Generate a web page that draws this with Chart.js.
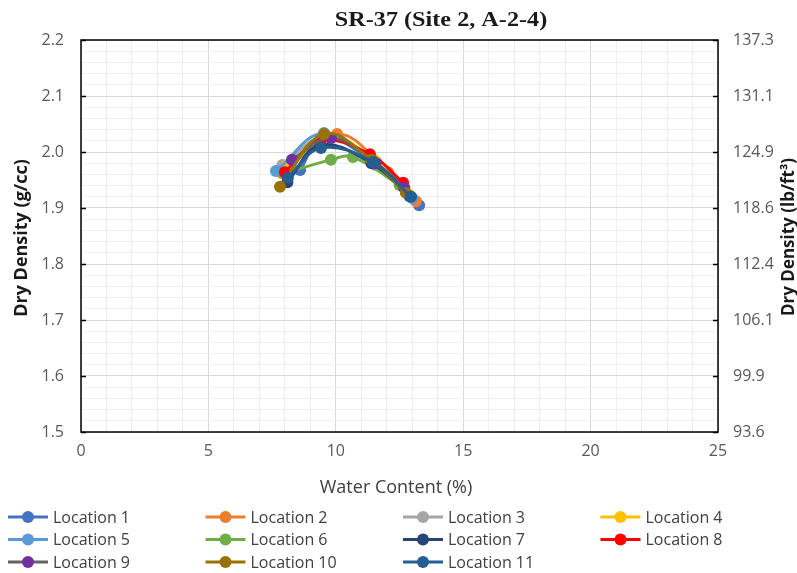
<!DOCTYPE html>
<html><head><meta charset="utf-8">
<script src="https://cdn.jsdelivr.net/npm/chart.js@4/dist/chart.umd.min.js"></script>
<style>html,body{margin:0;padding:0;background:#fff;}#wrap{width:797px;height:573px;position:relative;}</style>
</head><body><div id="wrap"><canvas id="c" width="797" height="573"></canvas></div>
<script>
const chartTitle = 'SR-37 (Site 2, A-2-4)';
const xTitle = 'Water Content (%)';
const yTitle = 'Dry Density (g/cc)';
const y2Title = 'Dry Density (lb/ft³)';
const seriesNames = ['Location 1','Location 2','Location 3','Location 4','Location 5','Location 6','Location 7','Location 8','Location 9','Location 10','Location 11'];
const lineColors   = ['#4472C4','#ED7D31','#A5A5A5','#FFC000','#5B9BD5','#70AD47','#264478','#FF0000','#636363','#997300','#255E91'];
const markerColors = ['#4472C4','#ED7D31','#A5A5A5','#FFC000','#5B9BD5','#70AD47','#264478','#FF0000','#7030A0','#997300','#255E91'];

const wc1 = [8.6, 9.5, 11.5, 13.27];   const dd1 = [1.968, 2.027, 1.980, 1.905];
const wc2 = [7.9, 10.05, 12.05, 13.15]; const dd2 = [1.962, 2.032, 1.964, 1.912];
const wc3 = [7.9, 9.6, 11.6, 12.7];    const dd3 = [1.977, 2.027, 1.982, 1.936];
const wc4 = [8.1, 9.8, 11.5, 12.9];    const dd4 = [1.977, 2.025, 1.986, 1.923];
const wc5 = [7.65, 9.54, 11.55, 13.0]; const dd5 = [1.966, 2.034, 1.977, 1.918];
const wc6 = [8.0, 9.81, 10.67, 12.5];  const dd6 = [1.962, 1.986, 1.991, 1.941];
const wc7 = [8.1, 9.38, 11.4, 12.9];   const dd7 = [1.946, 2.012, 1.980, 1.921];
const wc8 = [8.0, 9.38, 11.34, 12.64]; const dd8 = [1.964, 2.020, 1.996, 1.945];
const wc9 = [8.28, 9.81, 11.55, 12.68]; const dd9 = [1.986, 2.025, 1.980, 1.936];
const wc10 = [7.81, 9.54, 11.4, 12.75]; const dd10 = [1.938, 2.032, 1.986, 1.927];
const wc11 = [8.12, 9.42, 11.46, 12.95]; const dd11 = [1.954, 2.007, 1.982, 1.920];

const waterContents = [wc1,wc2,wc3,wc4,wc5,wc6,wc7,wc8,wc9,wc10,wc11];
const dryDensities = [dd1,dd2,dd3,dd4,dd5,dd6,dd7,dd8,dd9,dd10,dd11];

const xTicks = [0, 5, 10, 15, 20, 25];
const yTicks = [1.5, 1.6, 1.7, 1.8, 1.9, 2.0, 2.1, 2.2];
const rightTickLabels = ['93.6','99.9','106.1','112.4','118.6','124.9','131.1','137.3'];

const isMajorY = v => Math.abs(v*10 - Math.round(v*10)) < 1e-6;
const isMajorX = v => Math.abs(v/5 - Math.round(v/5)) < 1e-6;

const datasets = seriesNames.map((name, i) => ({
  label: name,
  data: waterContents[i].map((x, j) => ({x: x, y: dryDensities[i][j]})),
  borderColor: lineColors[i],
  backgroundColor: markerColors[i],
  pointBackgroundColor: markerColors[i],
  pointBorderColor: markerColors[i],
  pointRadius: 6,
  pointBorderWidth: 0,
  borderWidth: 3,
  tension: 0.4,
  fill: false,
  order: seriesNames.length - 1 - i
}));

const decor = {
  id: 'decor',
  afterDraw(chart) {
    const ctx = chart.ctx;
    const a = chart.chartArea;
    const ys = chart.scales.y;
    ctx.save();
    ctx.strokeStyle = '#000';
    ctx.lineWidth = 1.5;
    ctx.strokeRect(a.left, a.top, a.right - a.left, a.bottom - a.top);
    yTicks.forEach(v => {
      const py = Math.round(ys.getPixelForValue(v)) + 0.5;
      ctx.beginPath(); ctx.moveTo(a.left, py); ctx.lineTo(a.left + 5, py); ctx.stroke();
      ctx.beginPath(); ctx.moveTo(a.right - 5, py); ctx.lineTo(a.right, py); ctx.stroke();
    });
    // title
    ctx.fillStyle = '#1a1a1a';
    ctx.font = 'bold 22px "Liberation Serif", "Times New Roman", serif';
    ctx.textAlign = 'center'; ctx.textBaseline = 'middle';
    ctx.save(); ctx.translate(441, 20); ctx.scale(1.1, 1); ctx.fillText(chartTitle, 0, 0); ctx.restore();
    // x title
    ctx.fillStyle = '#404040';
    ctx.font = '18px "Open Sans", sans-serif';
    ctx.fillText(xTitle, 396, 488);
    // y titles
    ctx.fillStyle = '#1a1a1a';
    ctx.font = 'bold 18px "Open Sans", sans-serif';
    ctx.save(); ctx.translate(22, 238); ctx.rotate(-Math.PI/2); ctx.fillText(yTitle, 0, 0); ctx.restore();
    ctx.font = 'bold 17px "Open Sans", sans-serif';
    ctx.save(); ctx.translate(789, 237); ctx.rotate(-Math.PI/2); ctx.fillText(y2Title, 0, 0); ctx.restore();
    // legend
    ctx.textAlign = 'left';
    ctx.font = '16px "Open Sans", sans-serif';
    seriesNames.forEach((name, i) => {
      const col = i % 4, row = Math.floor(i / 4);
      const x0 = 8 + col * 197.5;
      const y0 = 517 + row * 22.5;
      ctx.strokeStyle = lineColors[i]; ctx.lineWidth = 3;
      ctx.beginPath(); ctx.moveTo(x0, y0); ctx.lineTo(x0 + 40, y0); ctx.stroke();
      ctx.fillStyle = markerColors[i];
      ctx.beginPath(); ctx.arc(x0 + 20, y0, 6, 0, Math.PI*2); ctx.fill();
      ctx.fillStyle = '#404040';
      ctx.fillText(name, x0 + 45, y0 + 1);
    });
    ctx.restore();
  }
};

new Chart(document.getElementById('c'), {
  type: 'line',
  data: { datasets },
  options: {
    responsive: false,
    devicePixelRatio: 1,
    animation: false,
    layout: { padding: { top: 40, left: 0, right: 0, bottom: 0 } },
    plugins: { legend: { display: false }, title: { display: false }, tooltip: { enabled: false } },
    scales: {
      x: {
        type: 'linear', min: 0, max: 25,
        ticks: {
          stepSize: 1, autoSkip: false, maxRotation: 0, padding: 10,
          color: '#595959', font: { family: '"Open Sans", sans-serif', size: 16 },
          callback: v => isMajorX(v) ? String(Math.round(v)) : ''
        },
        grid: { color: c => isMajorX(c.tick.value) ? '#d9d9d9' : '#f0f0f0', drawTicks: false, lineWidth: 1 },
        border: { display: false },
        afterFit: s => { s.height = 141; }
      },
      y: {
        type: 'linear', position: 'left', min: 1.5, max: 2.2,
        ticks: {
          stepSize: 0.02, autoSkip: false, padding: 17,
          color: '#595959', font: { family: '"Open Sans", sans-serif', size: 16 },
          callback: v => isMajorY(v) ? v.toFixed(1) : ''
        },
        grid: { color: c => isMajorY(c.tick.value) ? '#d9d9d9' : '#f0f0f0', drawTicks: false, lineWidth: 1 },
        border: { display: false },
        afterFit: s => { s.width = 81; }
      },
      y2: {
        type: 'linear', position: 'right', min: 1.5, max: 2.2,
        ticks: {
          stepSize: 0.1, autoSkip: false, padding: 15,
          color: '#595959', font: { family: '"Open Sans", sans-serif', size: 16 },
          callback: v => {
            let k = 0, best = 1e9;
            yTicks.forEach((t, i) => { const d = Math.abs(t - v); if (d < best) { best = d; k = i; } });
            return rightTickLabels[k];
          }
        },
        grid: { display: false, drawTicks: false },
        border: { display: false },
        afterFit: s => { s.width = 79; }
      }
    }
  },
  plugins: [decor]
});
</script></body></html>
